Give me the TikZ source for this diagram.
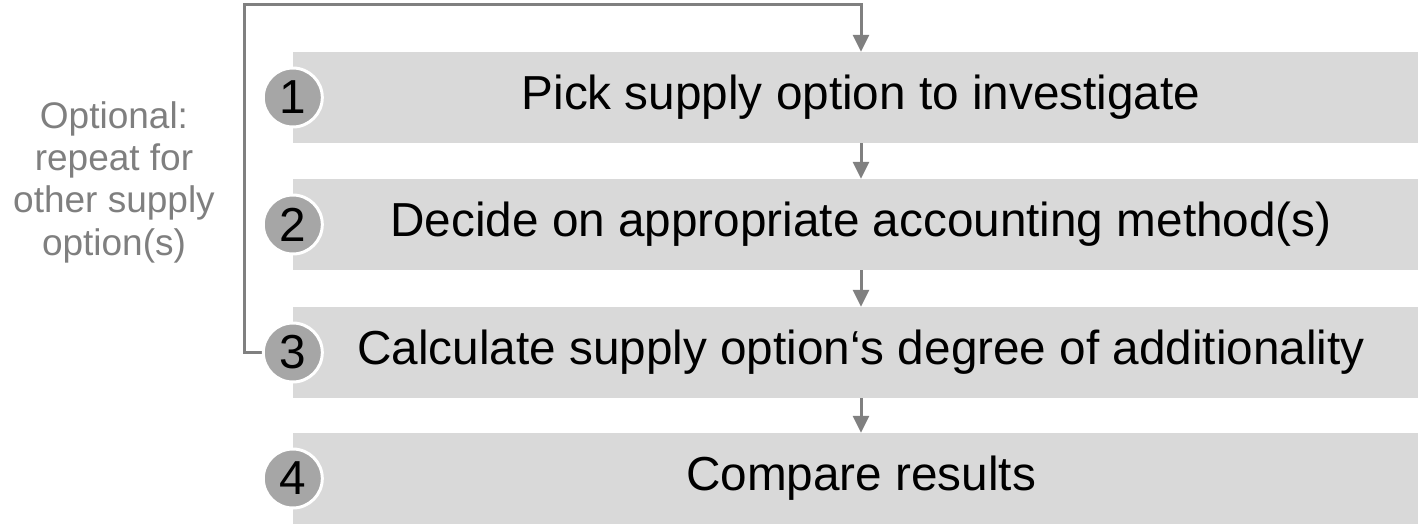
\documentclass[tikz,border=0pt]{standalone}
\usepackage{fontspec}
\setmainfont{Liberation Sans}
\usetikzlibrary{arrows.meta}
\definecolor{boxgray}{HTML}{D9D9D9}
\definecolor{dotgray}{HTML}{A6A6A6}
\definecolor{linegray}{HTML}{808080}
\definecolor{notegray}{HTML}{7F7F7F}
\begin{document}
\begin{tikzpicture}[x=1pt,y=-1pt,
  stepbox/.style={rectangle, fill=boxgray, minimum width=1136pt, minimum height=91pt,
    inner sep=0pt, font=\fontsize{47.7}{52}\selectfont},
  stepnum/.style={circle, fill=dotgray, draw=white, line width=3pt, minimum size=59pt,
    inner sep=0pt, font=\fontsize{47.7}{52}\selectfont},
  flow/.style={draw=linegray, line width=3pt,
    -{Triangle[width=16pt,length=17pt]}},
  note/.style={align=center, text=notegray, inner sep=0pt,
    font=\fontsize{37}{42.3}\selectfont}
]
\useasboundingbox (0,0) rectangle (1418,523);

% step boxes
\node[stepbox] (b1) at (861,97.5) {Pick supply option to investigate};
\node[stepbox] (b2) at (861,224.5) {Decide on appropriate accounting method(s)};
\node[stepbox] (b3) at (861,352.5) {Calculate supply option‘s degree of additionality};
\node[stepbox] (b4) at (861,478.5) {Compare results};

% side note (base anchor sits on the last line)
\node[note, anchor=base] (note) at (114,255) {Optional:\\repeat for\\other supply\\option(s)};

% loop-back corners
\coordinate (lb) at (244,352.5);
\coordinate (lt) at (244,4);
\coordinate (rt) at (861,4);

% connectors
\draw[flow] (b1.south) -- (b2.north);
\draw[flow] (b2.south) -- (b3.north);
\draw[flow] (b3.south) -- (b4.north);
\draw[flow, line join=miter] (b3.west) -- (lb) -- (lt) -- (rt) -- (b1.north);

% step numbers
\node[stepnum] (n1) at (b1.west) {1};
\node[stepnum] (n2) at (b2.west) {2};
\node[stepnum] (n3) at (b3.west) {3};
\node[stepnum] (n4) at (b4.west) {4};
\end{tikzpicture}
\end{document}
